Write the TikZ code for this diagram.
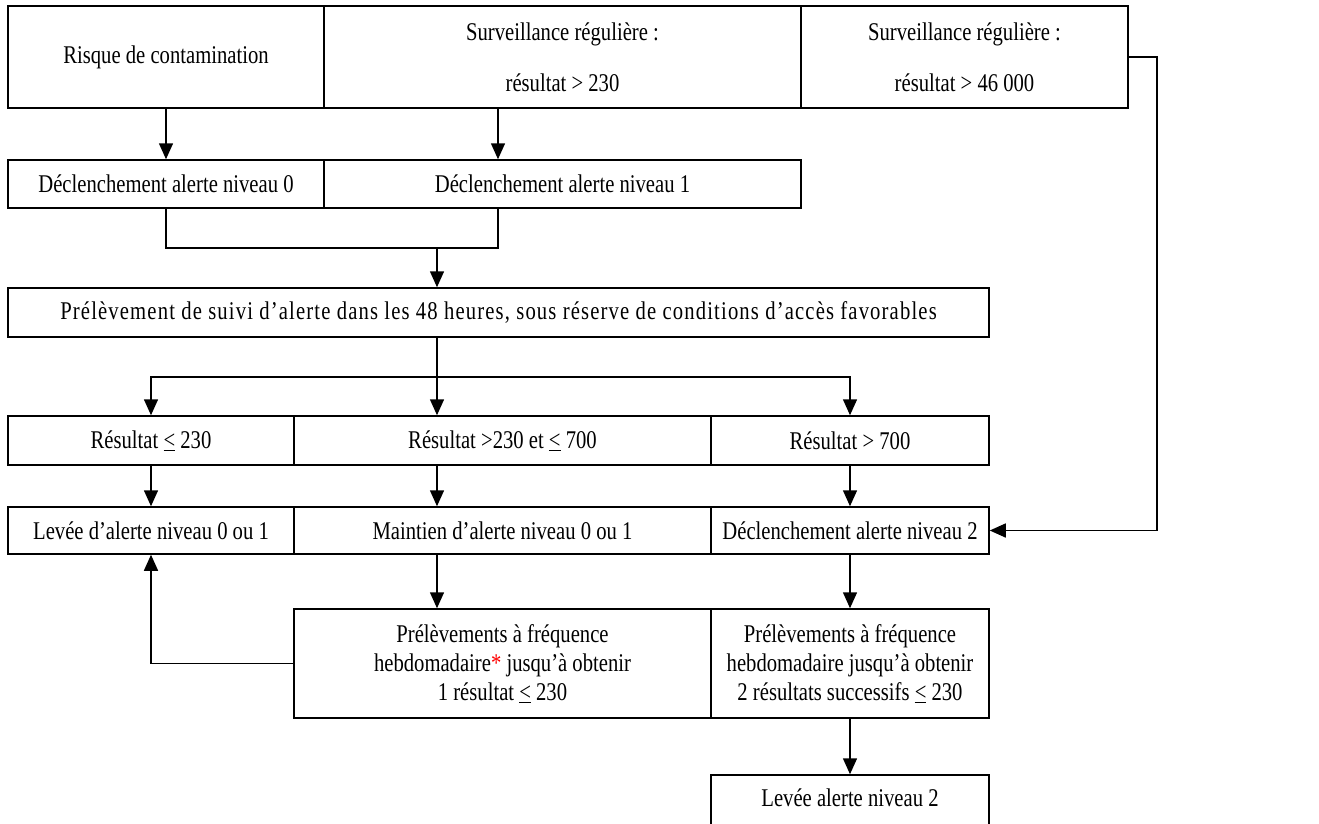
\documentclass[tikz,border=0pt]{standalone}
\usepackage{fontspec}
\setmainfont[FakeStretch=0.81]{Liberation Serif}
\usetikzlibrary{arrows.meta,calc}
\tikzset{
  box/.style={draw, line width=1.5bp, inner sep=0pt, align=center,
    font=\fontsize{25.5bp}{29bp}\selectfont},
  twoline/.style={font=\fontsize{25.5bp}{51bp}\selectfont},
  arr/.style={line width=1.5bp, -{Triangle[length=16bp,width=14bp]}},
  ln/.style={line width=1.5bp},
}
\begin{document}
\begin{tikzpicture}[x=1bp,y=-1bp]
\useasboundingbox (0,0) rectangle (1319,823);
\fill[white] (0,0) rectangle (1319,823);
% row 1
\node[box, minimum width=316bp, minimum height=102bp] (A) at (166,57) {Risque de contamination};
\node[box, twoline, minimum width=477bp, minimum height=102bp] (B) at (562.5,57) {Surveillance régulière :\\résultat > 230};
\node[box, twoline, minimum width=327bp, minimum height=102bp] (C) at (964.5,57) {Surveillance régulière :\\résultat > 46 000};
% row 2
\node[box, minimum width=316bp, minimum height=48bp] (D) at (166,184) {Déclenchement alerte niveau 0};
\node[box, minimum width=477bp, minimum height=48bp] (E) at (562.5,184) {Déclenchement alerte niveau 1};
% row 3
\node[box, minimum width=981bp, minimum height=49bp] (F) at (498.5,312.5) {\addfontfeature{LetterSpace=4.5}Prélèvement de suivi d’alerte dans les 48 heures, sous réserve de conditions d’accès favorables};
% row 4
\node[box, minimum width=286bp, minimum height=49bp] (G) at (151,440.5) {Résultat \underline{<} 230};
\node[box, minimum width=417bp, minimum height=49bp] (H) at (502.5,440.5) {Résultat >230 et \underline{<} 700};
\node[box, minimum width=278bp, minimum height=49bp] (I) at (850,440.5) {Résultat > 700};
% row 5
\node[box, minimum width=286bp, minimum height=47bp] (J) at (151,530.5) {Levée d’alerte niveau 0 ou 1};
\node[box, minimum width=417bp, minimum height=47bp] (K) at (502.5,530.5) {Maintien d’alerte niveau 0 ou 1};
\node[box, minimum width=278bp, minimum height=47bp] (L) at (850,530.5) {Déclenchement alerte niveau 2};
% row 6
\node[box, minimum width=417bp, minimum height=109bp] (M) at (502.5,663.5) {Prélèvements à fréquence\\hebdomadaire\textcolor{red}{*} jusqu’à obtenir\\1 résultat \underline{<} 230};
\node[box, minimum width=278bp, minimum height=109bp] (N) at (850,663.5) {Prélèvements à fréquence\\hebdomadaire jusqu’à obtenir\\2 résultats successifs \underline{<} 230};
% row 7
\node[box, minimum width=278bp, minimum height=64bp] (O) at (850,807) {\raisebox{9bp}[\height][\depth]{Levée alerte niveau 2}};
% helper coordinates
\coordinate (xB) at (498,0);
\coordinate (xF) at (437,0);
\coordinate (jy) at (0,248);
\coordinate (sy) at (0,377);
\coordinate (xR) at (1157,0);
% connectors
\draw[arr] (A.south) -- (D.north);
\draw[arr] (B.south -| xB) -- (E.north -| xB);
\draw[ln] (D.south) |- (jy -| xB) -- (E.south -| xB);
\draw[arr] (jy -| xF) -- (F.north -| xF);
\draw[ln] (F.south -| xF) -- (sy -| xF);
\draw[arr] (sy -| xF) -- (H.north -| xF);
\draw[arr] (sy -| xF) -| (G.north);
\draw[arr] (sy -| xF) -| (I.north);
\draw[arr] (G.south) -- (J.north);
\draw[arr] (H.south -| xF) -- (K.north -| xF);
\draw[arr] (I.south) -- (L.north);
\draw[arr] (K.south -| xF) -- (M.north -| xF);
\draw[arr] (L.south) -- (N.north);
\draw[arr] (N.south) -- (O.north);
\draw[arr] (M.west) -| (J.south);
\draw[arr] (C.east) -- (C.east -| xR) |- (L.east);
\end{tikzpicture}
\end{document}
